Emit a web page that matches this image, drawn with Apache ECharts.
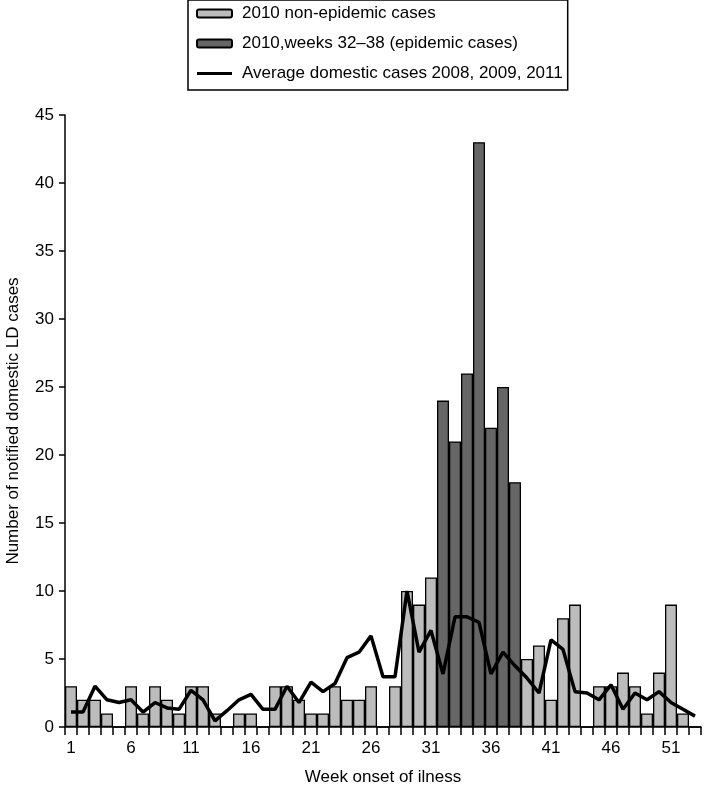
<!DOCTYPE html>
<html>
<head>
<meta charset="utf-8">
<script src="https://cdn.jsdelivr.net/npm/echarts@6/dist/echarts.min.js"></script>
<style>
html,body{margin:0;padding:0;background:#fff;}
#chart{width:706px;height:789px;}
</style>
</head>
<body>
<div id="chart"></div>
<script>
var weeks = [];
for (var i = 1; i <= 53; i++) weeks.push(String(i));

// 2010 non-epidemic cases (weeks 1..53; null during epidemic weeks 32-38)
var nonEpidemic = [3,2,2,1,0,3,1,3,2,1,3,3,1,0,1,1,0,3,3,2,1,1,3,2,2,3,0,3,10,9,11,
  null,null,null,null,null,null,null,
  5,6,2,8,9,0,3,3,4,3,1,4,9,1,0];

// 2010 weeks 32-38 epidemic cases
var epidemic = [null,null,null,null,null,null,null,null,null,null,null,null,null,null,null,null,null,null,null,null,null,null,null,null,null,null,null,null,null,null,null,
  24,21,26,43,22,25,18,
  null,null,null,null,null,null,null,null,null,null,null,null,null,null,null];

// Average domestic cases 2008, 2009, 2011
var average = [1.1,1.1,3.0,2.0,1.8,2.0,1.1,1.8,1.4,1.3,2.7,2.0,0.45,1.2,2.0,2.4,1.3,1.3,3.0,1.8,
  3.3,2.6,3.2,5.1,5.5,6.7,3.7,3.7,10.0,5.5,7.1,3.9,8.1,8.1,7.7,3.9,5.5,4.5,3.6,2.5,
  6.4,5.7,2.6,2.5,2.0,3.1,1.3,2.5,2.0,2.6,1.8,1.3,0.8];

var FONT = '"Liberation Sans", Arial, sans-serif';

var chart = echarts.init(document.getElementById('chart'), null, {renderer: 'canvas'});
chart.setOption({
  animation: false,
  backgroundColor: '#fff',
  textStyle: {fontFamily: FONT, color: '#000'},
  legend: {
    orient: 'vertical',
    left: 188,
    top: 0,
    padding: [5, 5, 8, 8],
    borderColor: '#000',
    borderWidth: 1.5,
    itemWidth: 35,
    itemHeight: 8,
    itemGap: 13,
    textStyle: {fontFamily: FONT, fontSize: 17, color: '#000', padding: [0, 0, 0, 5]},
    data: [
      {name: '2010 non-epidemic cases'},
      {name: '2010,weeks 32\u201338 (epidemic cases)'},
      {
        name: 'Average domestic cases 2008, 2009, 2011',
        icon: 'path://M0,0L0,0.01M0,2.5H35V5.5H0ZM35,8L35,7.99',
        itemStyle: {color: '#000', borderWidth: 0}
      }
    ]
  },
  grid: {left: 65, right: 5, top: 115, bottom: 62, containLabel: false, outerBoundsMode: 'none'},
  xAxis: {
    type: 'category',
    data: weeks,
    boundaryGap: true,
    name: 'Week onset of ilness',
    nameLocation: 'middle',
    nameGap: 42,
    nameTextStyle: {fontFamily: FONT, fontSize: 17, color: '#000'},
    axisLine: {show: true, lineStyle: {color: '#000', width: 1.5}},
    axisTick: {show: true, interval: 0, length: 8, lineStyle: {color: '#000', width: 1.5}},
    axisLabel: {interval: 4, fontFamily: FONT, fontSize: 17, color: '#000', margin: 13},
    splitLine: {show: false}
  },
  yAxis: {
    type: 'value',
    min: 0,
    max: 45,
    interval: 5,
    name: 'Number of notified domestic LD cases',
    nameLocation: 'middle',
    nameGap: 43,
    nameTextStyle: {fontFamily: FONT, fontSize: 17, color: '#000'},
    axisLine: {show: true, lineStyle: {color: '#000', width: 1.5}},
    axisTick: {show: true, length: 6, lineStyle: {color: '#000', width: 1.5}},
    axisLabel: {fontFamily: FONT, fontSize: 17, color: '#000', margin: 11},
    splitLine: {show: false}
  },
  series: [
    {
      name: '2010 non-epidemic cases',
      type: 'bar',
      stack: 'cases',
      data: nonEpidemic,
      barCategoryGap: '0%',
      itemStyle: {color: '#bcbcbc', borderColor: '#000', borderWidth: 1.3}
    },
    {
      name: '2010,weeks 32\u201338 (epidemic cases)',
      type: 'bar',
      stack: 'cases',
      data: epidemic,
      barCategoryGap: '0%',
      itemStyle: {color: '#666666', borderColor: '#000', borderWidth: 1.3}
    },
    {
      name: 'Average domestic cases 2008, 2009, 2011',
      type: 'line',
      data: average,
      symbol: 'none',
      z: 5,
      lineStyle: {color: '#000', width: 3.5},
      itemStyle: {color: '#000'}
    }
  ]
});
</script>
</body>
</html>
